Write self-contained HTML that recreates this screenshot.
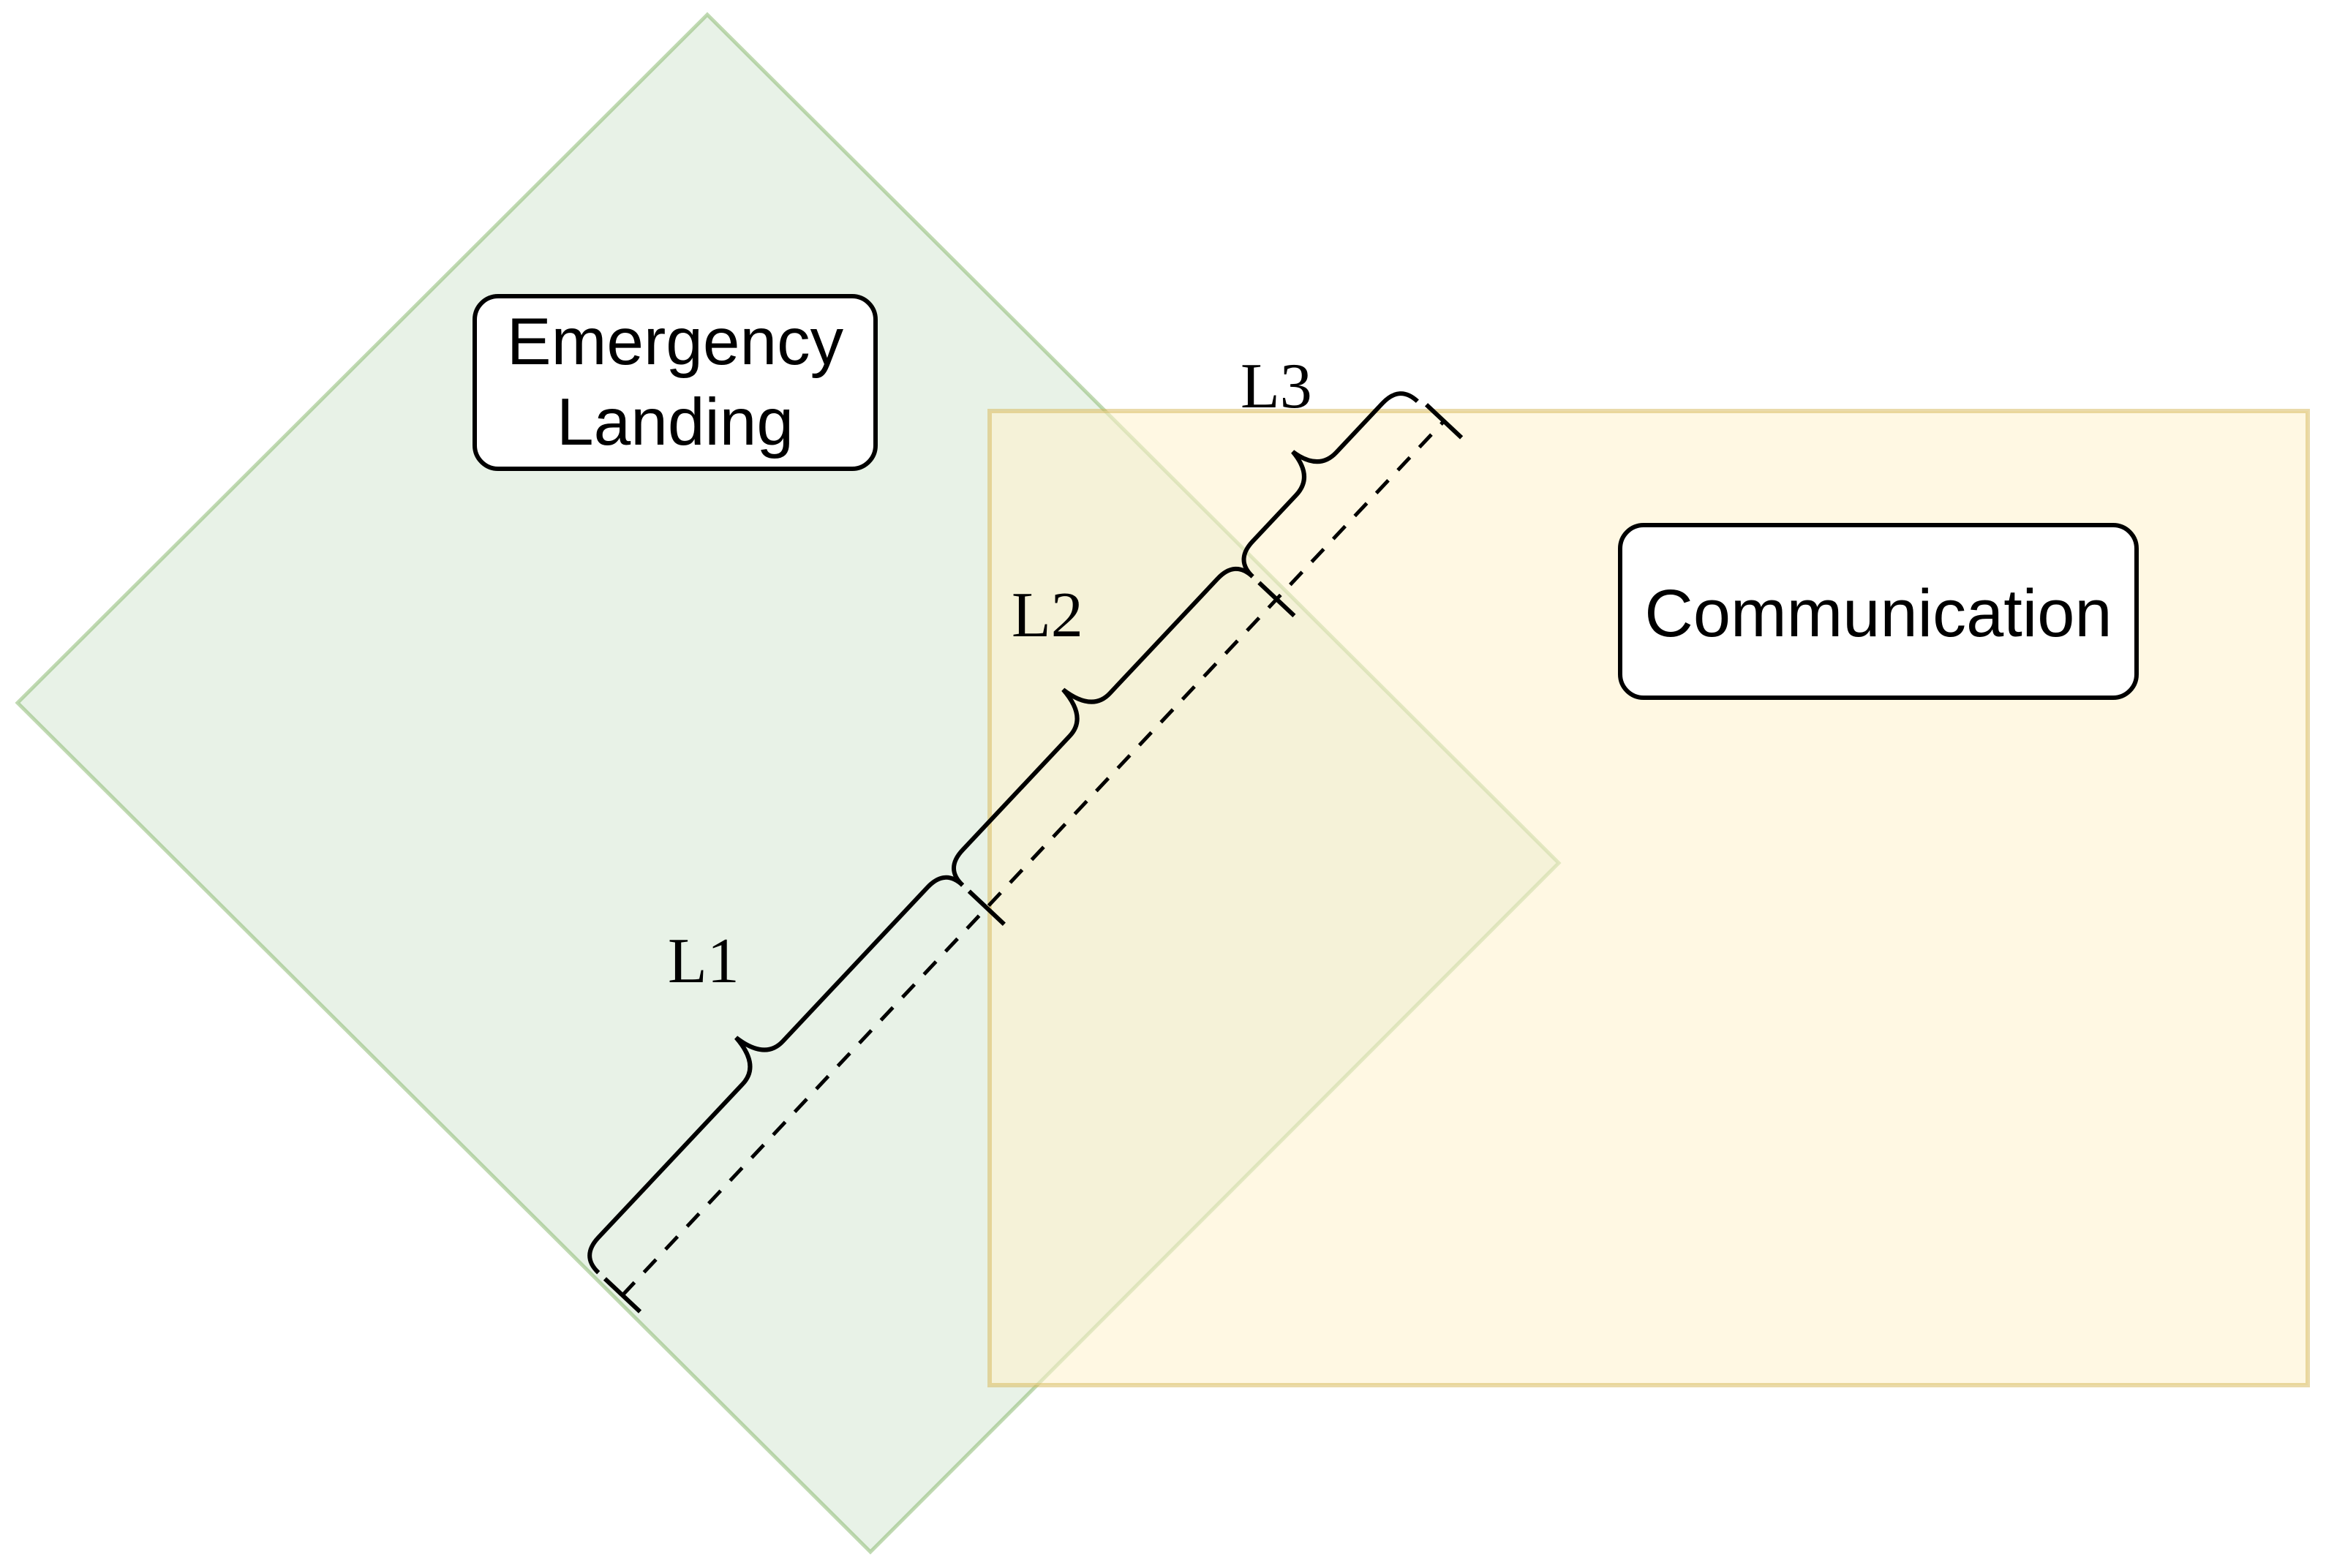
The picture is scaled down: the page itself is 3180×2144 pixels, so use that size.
<!DOCTYPE html>
<html><head><meta charset="utf-8"><style>
html,body{margin:0;padding:0;background:#fff;}
svg{display:block;}
</style></head><body>
<svg width="3180" height="2144" viewBox="0 0 3180 2144" xmlns="http://www.w3.org/2000/svg">
<rect width="3180" height="2144" fill="#fff"/>
<!-- diamond -->
<polygon points="967,20 2131,1180 1190,2122 24,961" fill="#d5e8d4" fill-opacity="0.55" stroke="#82b366" stroke-opacity="0.5" stroke-width="5"/>
<!-- rectangle -->
<rect x="1353" y="562" width="1802" height="1332" fill="#fff2cc" fill-opacity="0.55" stroke="#d6b656" stroke-opacity="0.5" stroke-width="6"/>
<!-- label boxes -->
<rect x="649" y="405" width="548" height="236" rx="32" fill="#fff" stroke="#000" stroke-width="6"/>
<text x="923" y="498" font-family="Liberation Sans, sans-serif" font-size="91" text-anchor="middle">Emergency</text>
<text x="923" y="608" font-family="Liberation Sans, sans-serif" font-size="91" text-anchor="middle">Landing</text>
<rect x="2215" y="718" width="706" height="236" rx="32" fill="#fff" stroke="#000" stroke-width="6"/>
<text x="2568" y="870" font-family="Liberation Sans, sans-serif" font-size="92" text-anchor="middle">Communication</text>
<!-- measurement -->
<g transform="translate(851,1771) rotate(-46.78)" fill="none" stroke="#000" stroke-width="6" stroke-linecap="butt">
  <line x1="0" y1="0" x2="1640" y2="0" stroke-width="5" stroke-dasharray="24,19"/>
  <line x1="0" y1="-33" x2="0" y2="33"/>
  <line x1="727" y1="-33" x2="727" y2="33"/>
  <line x1="1306" y1="-33" x2="1306" y2="33"/>
  <line x1="1640" y1="-33" x2="1640" y2="33"/>
  <path d="M0,-45 Q0,-78 35,-78 L323,-78 Q358,-78 363,-128 Q368,-78 403,-78 L692,-78 Q727,-78 727,-45"/>
  <path d="M727,-45 Q727,-78 762,-78 L976,-78 Q1011,-78 1016,-128 Q1021,-78 1056,-78 L1271,-78 Q1306,-78 1306,-45"/>
  <path d="M1306,-45 Q1306,-78 1341,-78 L1428,-78 Q1463,-78 1468,-122 Q1473,-78 1508,-78 L1600,-78 Q1635,-78 1635,-45"/>
</g>
<text x="913" y="1343" font-family="Liberation Serif, serif" font-size="88">L1</text>
<text x="1383" y="870" font-family="Liberation Serif, serif" font-size="88">L2</text>
<text x="1696" y="557" font-family="Liberation Serif, serif" font-size="88">L3</text>
</svg>
</body></html>
